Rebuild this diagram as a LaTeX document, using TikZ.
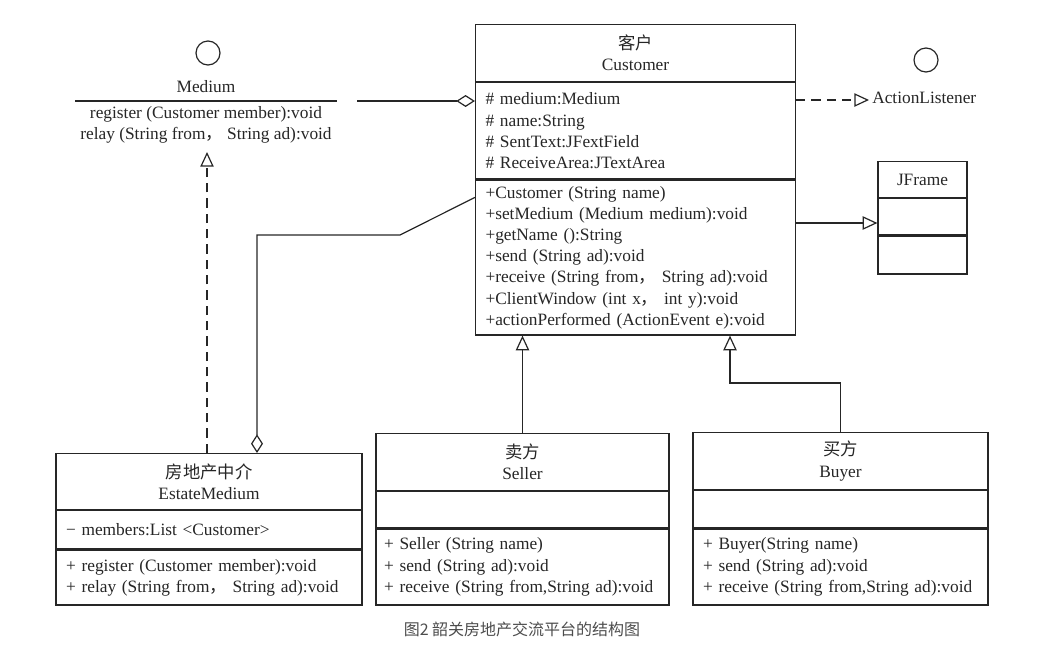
\documentclass[tikz,border=0pt]{standalone}
\usepackage{fontspec}
\setmainfont{Liberation Serif}
\newfontfamily\cjk{Noto Sans CJK SC}
\usetikzlibrary{positioning,arrows.meta}

\newcommand{\umlfont}{\fontsize{13}{15.9}\selectfont}
\newcommand{\zh}[1]{{\cjk #1}}

\begin{document}
\begin{tikzpicture}[
    x=0.75pt, y=-0.75pt,
    color=black!85, line width=0.9pt,
    comp/.style={draw, rectangle, anchor=north, inner ysep=0pt, inner xsep=7.5pt,
                 align=left, font=\umlfont},
    title/.style={comp, align=center},
    iface/.style={circle, draw, minimum size=18pt, inner sep=0pt},
    gen/.style={-{Triangle[open, length=11pt, width=10pt]}},
    real/.style={gen, dash pattern=on 7pt off 4.5pt},
    agg/.style={-{Diamond[open, length=14pt, width=9pt]}},
    caption/.style={font=\cjk\fontsize{12}{14}\selectfont, text=black!70}
]
\useasboundingbox (0,0) rectangle (1048,647);

% Medium interface
\node[iface] (medCirc) at (208,53) {};
\node[font=\umlfont] (medName) at (206,87) {Medium};
\draw (75,101) -- (337,101);
\node[font=\umlfont, align=center, anchor=north, inner sep=0pt] (medOps) at (206,106)
    {register (Customer member):void\\relay (String from\zh{，} String ad):void};
\coordinate (medTip) at (207,152);

% Customer
\node[title, text width=225pt, minimum height=42.75pt] (cusName) at (635.5,24)
    {\zh{客户}\\Customer};
\node[comp, text width=225pt, minimum height=72pt, below=0pt of cusName] (cusAttr)
    {\# medium:Medium\\\# name:String\\\# SentText:JFextField\\\# ReceiveArea:JTextArea};
\node[comp, text width=225pt, minimum height=116.25pt, below=0pt of cusAttr] (cusMeth)
    {+Customer (String name)\\+setMedium (Medium medium):void\\+getName ():String\\
     +send (String ad):void\\+receive (String from\zh{，} String ad):void\\
     +ClientWindow (int x\zh{，} int y):void\\+actionPerformed (ActionEvent e):void};

% ActionListener interface
\node[iface] (alCirc) at (926,60) {};
\node[font=\umlfont, anchor=west, inner sep=2pt] (alName) at (869,98) {ActionListener};

% JFrame
\node[title, text width=51.75pt, minimum height=27pt] (jfName) at (922.5,161) {JFrame};
\node[comp, text width=51.75pt, minimum height=27pt, below=0pt of jfName] (jfMid) {};
\node[comp, text width=51.75pt, minimum height=28.5pt, below=0pt of jfMid] (jfBot) {};

% EstateMedium
\node[title, text width=214.5pt, minimum height=42pt] (estName) at (209,453)
    {\zh{房地产中介}\\EstateMedium};
\node[comp, text width=214.5pt, minimum height=28.5pt, below=0pt of estName] (estAttr)
    {− members:List <Customer>};
\node[comp, text width=214.5pt, minimum height=41.25pt, below=0pt of estAttr] (estMeth)
    {+ register (Customer member):void\\+ relay (String from\zh{，} String ad):void};

% Seller
\node[title, text width=204.75pt, minimum height=42.75pt] (selName) at (522.5,433)
    {\zh{卖方}\\Seller};
\node[comp, text width=204.75pt, minimum height=27pt, below=0pt of selName] (selAttr) {};
\node[comp, inner xsep=6pt, text width=207.75pt, minimum height=57pt, below=0pt of selAttr] (selMeth)
    {+ Seller (String name)\\+ send (String ad):void\\+ receive (String from,String ad):void};

% Buyer
\node[title, text width=206.25pt, minimum height=42.75pt] (buyName) at (840.5,432)
    {\zh{买方}\\Buyer};
\node[comp, text width=206.25pt, minimum height=27.75pt, below=0pt of buyName] (buyAttr) {};
\node[comp, text width=206.25pt, minimum height=57pt, below=0pt of buyAttr] (buyMeth)
    {+ Buyer(String name)\\+ send (String ad):void\\+ receive (String from,String ad):void};

% Relations
\coordinate (medEnd) at (357,101);
\draw[agg] (medEnd) -- (medEnd -| cusAttr.west);
\draw[real] (cusAttr.east |- 0,100) -- (alName.west |- 0,100);
\draw[gen] (cusMeth.east |- 0,223) -- (jfMid.west |- 0,223);
\draw[real] (medTip |- estName.north) -- (medTip);
\coordinate (aggBend) at (257,235);
\draw[agg] ([yshift=-13.5pt]cusMeth.north west) -- (400,235) -- (aggBend)
    -- (aggBend |- estName.north);
\draw[gen] (selName.north) -- (selName.north |- cusMeth.south);
\coordinate (buyBend) at (730,383);
\draw[gen] (buyName.north) |- (buyBend) -- (buyBend |- cusMeth.south);

% Caption
\node[caption] (cap) at (522,629) {图2 韶关房地产交流平台的结构图};
\end{tikzpicture}
\end{document}
